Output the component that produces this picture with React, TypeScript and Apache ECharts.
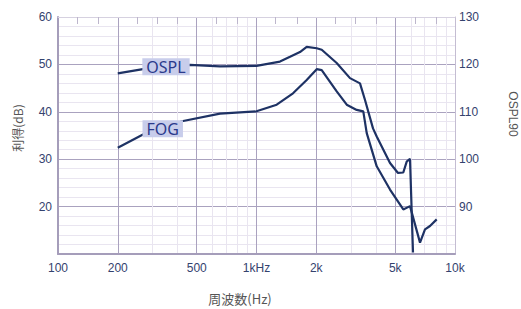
import React, { useEffect, useRef } from "react";
import * as echarts from "echarts";

// Frequency (Hz) and OSPL90 (dB SPL, right axis)
const OSPL_FREQ = [200, 268, 350, 462, 655, 1000, 1313, 1475, 1656, 1790, 2011, 2131, 2535, 2958, 3322, 3521, 3863, 4033, 4705, 5162, 5489, 5711, 5934, 6143];
const OSPL_DB = [118.1, 119.0, 119.5, 119.9, 119.6, 119.7, 120.6, 121.6, 122.6, 123.7, 123.4, 123.1, 120.3, 117.1, 116.0, 112.5, 106.5, 104.8, 99.2, 97.1, 97.2, 99.5, 100.1, 80.3];
// Frequency (Hz) and full-on gain (dB, left axis)
const FOG_FREQ = [200, 268, 337, 421, 655, 1000, 1264, 1527, 1790, 2011, 2131, 2535, 2848, 3197, 3451, 3592, 4033, 4705, 5489, 5934, 6664, 7061, 7482, 8087];
const FOG_DB = [32.4, 35.2, 36.4, 38.0, 39.6, 40.1, 41.5, 43.9, 46.7, 49.0, 48.8, 44.3, 41.5, 40.4, 40.1, 35.5, 28.5, 23.6, 19.4, 20.1, 12.4, 15.2, 15.9, 17.3];
const OSPL_LABEL_INDEX = 2;
const FOG_LABEL_INDEX = 2;

const X_LABEL_VALUES = [100, 200, 500, 1000, 2000, 5000, 10000];
const X_LABELS = ["100", "200", "500", "1kHz", "2k", "5k", "10k"];
const X_MAJOR_GRID = [200, 500, 1000, 2000, 5000];
const X_MINOR_GRID = [300, 400, 600, 700, 800, 900, 3000, 4000, 6000, 7000, 8000, 9000];
const X_TOP_TICKS = [125, 160, 250, 315, 400, 630, 800, 1250, 1600, 2500, 3150, 4000, 6300, 8000];

const LINE_COLOR = "#1e3264";
const MAJOR = "#aaa2bf";
const MINOR = "#e9e5f0";
const TICK_COLOR = "#34426e";

function makeLabel(text: string) {
  return {
    show: true,
    position: "inside",
    formatter: text,
    color: "#2b3a8c",
    fontSize: 16,
    fontFamily: "Noto Sans",
    backgroundColor: "#c8cdeb",
    padding: [1, 4, 0, 4],
    lineHeight: 16,
  };
}

export default function App() {
  const ref = useRef<HTMLDivElement>(null);
  useEffect(() => {
    if (!ref.current) return;
    const chart = echarts.init(ref.current, null, { renderer: "svg" });
    const osplData = OSPL_FREQ.map((f, i) =>
      i === OSPL_LABEL_INDEX
        ? { value: [f, OSPL_DB[i]], symbol: "circle", symbolSize: 1, label: makeLabel("OSPL") }
        : [f, OSPL_DB[i]]
    );
    const fogData = FOG_FREQ.map((f, i) =>
      i === FOG_LABEL_INDEX
        ? { value: [f, FOG_DB[i]], symbol: "circle", symbolSize: 1, label: makeLabel("FOG") }
        : [f, FOG_DB[i]]
    );
    const labelStyle = { color: TICK_COLOR, fontSize: 12, fontFamily: "Liberation Sans" };
    chart.setOption({
      animation: false,
      backgroundColor: "#ffffff",
      grid: { left: 58, right: 66, top: 17, bottom: 55, containLabel: false, outerBoundsMode: "none" },
      xAxis: [
        {
          type: "log",
          logBase: 10,
          min: 100,
          max: 10000,
          position: "bottom",
          axisLine: { show: true, onZero: false, lineStyle: { color: "#a59dba", width: 2 } },
          axisTick: { show: false, customValues: X_MAJOR_GRID },
          axisLabel: {
            ...labelStyle,
            margin: 8,
            customValues: X_LABEL_VALUES,
            formatter: (v: number) => {
              const i = X_LABEL_VALUES.findIndex((x) => Math.abs(x - v) < 1e-6 * x);
              return i >= 0 ? X_LABELS[i] : "";
            },
          },
          splitLine: { show: true, lineStyle: { color: MAJOR, width: 1 } },
        },
        {
          type: "log",
          logBase: 10,
          min: 100,
          max: 10000,
          position: "bottom",
          axisLine: { show: false },
          axisTick: { show: false, customValues: X_MINOR_GRID },
          axisLabel: { show: false },
          splitLine: { show: true, lineStyle: { color: MINOR, width: 1 } },
        },
        {
          type: "log",
          logBase: 10,
          min: 100,
          max: 10000,
          position: "top",
          axisLine: { show: true, lineStyle: { color: "#d6d1e0", width: 1 } },
          axisTick: { show: true, inside: true, length: 7, customValues: X_TOP_TICKS, lineStyle: { color: "#bdb6cc" } },
          axisLabel: { show: false },
          splitLine: { show: false },
        },
      ],
      yAxis: [
        {
          type: "value",
          min: 10,
          max: 60,
          interval: 10,
          position: "left",
          axisLine: { show: true, lineStyle: { color: "#a59dba", width: 2 } },
          axisTick: { show: false },
          axisLabel: { ...labelStyle, margin: 6, showMinLabel: false },
          splitLine: { show: true, lineStyle: { color: MAJOR, width: 1 } },
          minorTick: { show: false, splitNumber: 5 },
          minorSplitLine: { show: true, lineStyle: { color: MINOR, width: 1 } },
        },
        {
          type: "value",
          min: 80,
          max: 130,
          interval: 10,
          position: "right",
          axisLine: { show: true, lineStyle: { color: "#c4bdd2", width: 1 } },
          axisTick: { show: false },
          axisLabel: { ...labelStyle, margin: 4, showMinLabel: false },
          splitLine: { show: false },
        },
      ],
      series: [
        {
          name: "OSPL",
          type: "line",
          xAxisIndex: 0,
          yAxisIndex: 1,
          data: osplData,
          symbol: "none",
          showSymbol: true,
          lineStyle: { color: LINE_COLOR, width: 2.2 },
          itemStyle: { color: LINE_COLOR },
          z: 5,
        },
        {
          name: "FOG",
          type: "line",
          xAxisIndex: 0,
          yAxisIndex: 0,
          data: fogData,
          symbol: "none",
          showSymbol: true,
          lineStyle: { color: LINE_COLOR, width: 2.2 },
          itemStyle: { color: LINE_COLOR },
          z: 5,
        },
      ],
      graphic: [
        {
          type: "text",
          x: 17,
          y: 128,
          rotation: Math.PI / 2,
          style: {
            text: "利得(dB)",
            fill: "#555555",
            fontSize: 12,
            fontFamily: "Noto Sans CJK JP",
            align: "center",
            verticalAlign: "middle",
          },
        },
        {
          type: "text",
          x: 513,
          y: 114,
          rotation: -Math.PI / 2,
          style: {
            text: "OSPL90",
            fill: "#555555",
            fontSize: 12,
            fontFamily: "Liberation Sans",
            align: "center",
            verticalAlign: "middle",
          },
        },
        {
          type: "text",
          x: 240,
          y: 298,
          style: {
            text: "周波数(Hz)",
            fill: "#555555",
            fontSize: 13,
            fontFamily: "Noto Sans CJK JP",
            align: "center",
            verticalAlign: "middle",
          },
        },
      ],
    });
    return () => chart.dispose();
  }, []);
  return <div ref={ref} style={{ position: "absolute", left: 0, top: 0, width: 521, height: 309 }} />;
}
